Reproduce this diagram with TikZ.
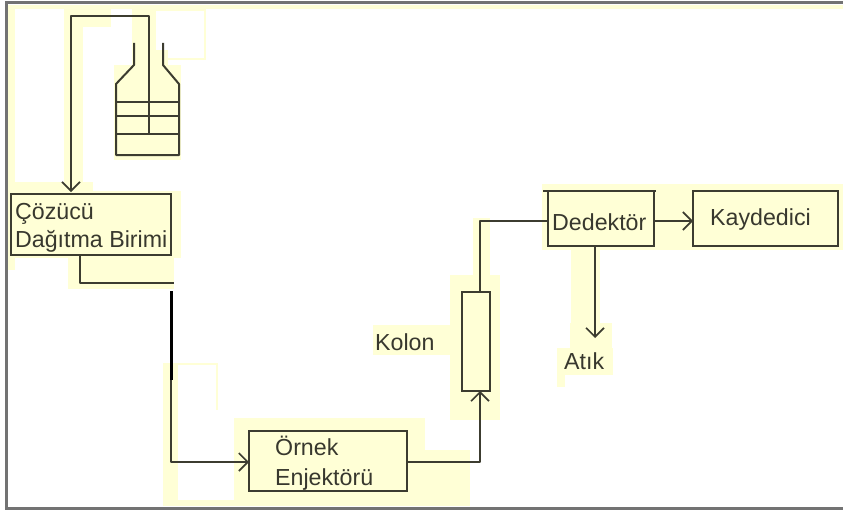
\documentclass[tikz,border=0pt]{standalone}
\usepackage{fontspec}
\setmainfont{Liberation Sans}
\usetikzlibrary{arrows.meta}
\definecolor{halo}{HTML}{FFFFD6}
\definecolor{ink}{HTML}{3C3C30}
\definecolor{txt}{HTML}{38382E}
\tikzset{
  x=1pt,y=-1pt,
  wire/.style={draw=ink,line width=2pt,line join=round},
  flow/.style={wire,-{Straight Barb[length=9pt,width=18pt,line width=1.6pt]}},
  unit/.style={draw=ink,line width=2.2pt,fill=halo,inner sep=0pt,outer sep=0pt},
  lbl/.style={text=txt,font=\fontsize{23.2}{27}\selectfont,inner sep=0pt,anchor=base west},
}
\begin{document}
\begin{tikzpicture}
\useasboundingbox (0,0) rectangle (843,511);
\fill[white] (0,0) rectangle (843,511);
% pale halo patches
\fill[halo] (8,5) rectangle (843,9);
\fill[halo] (8,5) rectangle (15,270);
\fill[halo] (64,9) rectangle (83,185);
\fill[halo] (64,9) rectangle (111,27);
\fill[halo] (132,9) rectangle (156,65);
\fill[halo] (156,9) rectangle (205,11);
\fill[halo] (204,9) rectangle (206,60);
\fill[halo] (156,58) rectangle (206,60);
\fill[halo] (114,65) rectangle (181,160);
\fill[halo] (132,50) rectangle (168,65);
\fill[halo] (15,182) rectangle (93,194);
\fill[halo] (8,191) rectangle (181,258);
\fill[halo] (68,258) rectangle (174,289);
\fill[halo] (163,363) rectangle (178,500);
\fill[halo] (178,363) rectangle (218,365);
\fill[halo] (216,363) rectangle (218,410);
\fill[halo] (163,500) rectangle (240,506);
\fill[halo] (234,418) rectangle (425,506);
\fill[halo] (425,450) rectangle (470,506);
\fill[halo] (450,275) rectangle (500,420);
\fill[halo] (373,325) rectangle (450,355);
\fill[halo] (473,218) rectangle (490,290);
\fill[halo] (542,184) rectangle (843,250);
\fill[halo] (571,250) rectangle (600,335);
\fill[halo] (570,323) rectangle (612,375);
\fill[halo] (557,348) rectangle (613,375);
\fill[halo] (557,375) rectangle (565,387);
% frame
\draw[draw=black!55,line width=3pt] (843,3) -- (6,3) -- (6,508) -- (843,508);
% nodes
\node[unit,minimum width=160pt,minimum height=61pt] (coz) at (91,224.5) {};
\node[unit,minimum width=158pt,minimum height=60pt] (ornek) at (328,461) {};
\node[unit,minimum width=28pt,minimum height=99pt] (kolon) at (476,341.5) {};
\node[unit,minimum width=106pt,minimum height=55pt] (ded) at (601,218.5) {};
\node[unit,minimum width=145pt,minimum height=55pt] (kay) at (765.5,218.5) {};
% labels
\node[lbl] (t1) at (15,219) {Çözücü};
\node[lbl] (t2) at (15,247) {Dağıtma Birimi};
\node[lbl] (t3) at (275,455) {Örnek};
\node[lbl] (t4) at (275,485) {Enjektörü};
\node[lbl] (t5) at (375,350) {Kolon};
\node[lbl] (t6) at (552,230) {Dedektör};
\node[lbl] (t7) at (710,225) {Kaydedici};
\node[lbl] (t8) at (564,369) {Atık};
% bottle
\draw[wire] (134,43) -- (134,65) -- (116,84) -- (116,155) -- (179,155) -- (179,84) -- (163,65) -- (163,43);
\draw[wire] (116,102) -- (179,102);
\draw[wire] (116,116) -- (179,116);
\draw[wire] (116,134) -- (179,134);
% connectors
\coordinate (tubeEnd) at (149,134);
\coordinate (tubeTop) at (149,16);
\coordinate (solvTop) at (71,16);
\coordinate (solvIn) at (71,192);
\draw[flow] (tubeEnd) -- (tubeTop) -- (solvTop) -- (solvIn);
\coordinate (c1) at (80,255);
\coordinate (c2) at (80,283);
\coordinate (c3) at (174,283);
\draw[wire] (c1) -- (c2) -- (c3);
\coordinate (c4) at (171,291);
\coordinate (c5) at (171,380);
\coordinate (c6) at (171,462);
\coordinate (c7) at (249,462);
\draw[draw=black,line width=3pt] (c4) -- (c5);
\draw[flow] (c5) -- (c6) -- (c7);
\coordinate (c8) at (407,462);
\coordinate (c9) at (480,462);
\coordinate (c10) at (480,391);
\draw[flow] (c8) -- (c9) -- (c10);
\coordinate (c11) at (480,292);
\coordinate (c12) at (480,221);
\coordinate (c13) at (548,221);
\draw[wire] (c11) -- (c12) -- (c13);
\coordinate (c14) at (654,221);
\coordinate (c15) at (693,221);
\draw[flow] (c14) -- (c15);
\coordinate (c16) at (595,246);
\coordinate (c17) at (595,338);
\draw[flow] (c16) -- (c17);
\coordinate (d1) at (543,191);
\coordinate (d2) at (656,191);
\draw[wire] (d1) -- (d2);
\end{tikzpicture}
\end{document}
